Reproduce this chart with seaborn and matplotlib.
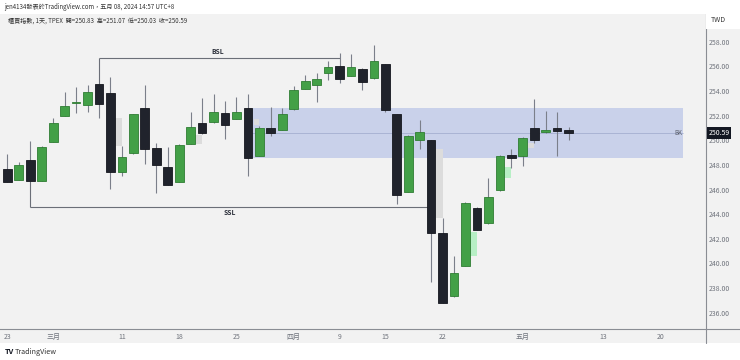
import matplotlib
matplotlib.use("Agg")
import matplotlib.pyplot as plt
import seaborn as sns
import numpy as np
from matplotlib.patches import Rectangle
from matplotlib.lines import Line2D

# ---------------- data ----------------
opens = [247.67, 246.80, 248.40, 246.72, 249.88, 252.00, 253.02, 252.84, 254.57, 253.86,
         247.45, 248.94, 252.59, 249.40, 247.85, 246.64, 249.70, 251.43, 251.46, 252.19,
         251.75, 252.59, 248.75, 250.97, 250.83, 252.51, 254.16, 254.49, 255.48, 256.05,
         255.24, 255.81, 255.03, 256.17, 252.13, 245.82, 250.00, 250.02, 242.45, 237.36,
         239.82, 244.53, 243.26, 245.94, 248.83, 248.75, 251.02, 250.65, 251.02, 250.83]
highs = [248.86, 248.21, 249.94, 249.50, 251.78, 253.94, 254.35, 254.49, 254.60, 255.11,
         249.53, 252.15, 254.49, 249.80, 249.43, 249.66, 252.27, 253.41, 253.75, 253.19,
         253.49, 253.75, 251.16, 252.72, 252.64, 254.43, 255.30, 255.43, 256.46, 257.11,
         257.00, 255.85, 257.73, 256.20, 252.15, 250.40, 251.64, 250.05, 243.67, 240.61,
         245.00, 244.55, 246.91, 248.80, 249.29, 250.25, 253.32, 252.40, 252.32, 251.07]
lows = [246.60, 246.75, 246.70, 246.70, 249.86, 251.98, 252.24, 252.32, 251.78, 246.02,
        247.10, 248.92, 248.07, 245.69, 246.35, 246.62, 249.68, 250.50, 251.44, 250.08,
        251.73, 247.10, 248.73, 250.37, 250.81, 252.49, 254.14, 253.13, 254.89, 254.67,
        255.22, 254.08, 255.01, 252.32, 244.86, 245.80, 249.27, 238.52, 236.77, 237.30,
        239.80, 242.70, 243.20, 245.92, 247.77, 247.91, 249.75, 250.60, 248.75, 250.03]
closes = [246.64, 247.97, 246.72, 249.48, 251.38, 252.78, 253.13, 253.92, 252.94, 247.45,
          248.64, 252.13, 249.27, 247.99, 246.37, 249.64, 251.05, 250.56, 252.27, 251.21,
          252.29, 248.54, 250.97, 250.61, 252.13, 254.08, 254.81, 254.97, 255.97, 254.97,
          255.97, 254.70, 256.46, 252.46, 245.56, 250.35, 250.69, 242.45, 236.77, 239.25,
          244.93, 242.72, 245.39, 248.75, 248.56, 250.21, 250.02, 250.81, 250.73, 250.59]

tick_pos = [0, 4, 10, 15, 20, 25, 29, 33, 38, 45, 52, 57]
tick_labels = ["23", "三月", "11", "18", "25", "四月", "9", "15", "22", "五月", "13", "20"]
price_ticks = [236, 238, 240, 242, 244, 246, 248, 250, 252, 254, 256, 258]

zone_start, zone_end = 21.1, 59.0
zone_low, zone_high = 248.58, 252.59
zone_mid = 250.55
last_price = 250.59

bsl_level, bsl_from, bsl_to = 256.65, 8, 29
ssl_level, ssl_from, ssl_to = 244.61, 2, 37

gap_x0 = [9.40, 16.40, 21.55, 37.40, 40.40, 43.40, 45.40]
gap_x1 = [10.00, 17.00, 22.00, 38.05, 41.00, 44.00, 45.95]
gap_lo = [249.55, 249.70, 251.24, 243.67, 240.61, 246.91, 249.35]
gap_hi = [251.78, 250.43, 251.70, 249.27, 242.58, 247.85, 249.75]
gap_kind = ["grey", "grey", "grey", "grey", "green", "green", "grey"]

# ---------------- style ----------------
sns.set_theme(style="white")
plt.rcParams["font.family"] = ["Noto Sans CJK TC", "DejaVu Sans"]

W, H = 740, 360
fig = plt.figure(figsize=(7.4, 3.6), dpi=100, facecolor="#f2f2f2")

def fy(py):
    return 1 - py / H

# white header and footer bands
fig.patches.append(Rectangle((0, fy(14)), 1, 14 / H, transform=fig.transFigure,
                             facecolor="white", edgecolor="none", zorder=0))
fig.patches.append(Rectangle((0, 0), 1, 17 / H, transform=fig.transFigure,
                             facecolor="white", edgecolor="none", zorder=0))
fig.patches.append(Rectangle((706 / W, fy(29)), 34 / W, 15 / H, transform=fig.transFigure,
                             facecolor="white", edgecolor="none", zorder=0))

ax = fig.add_axes([0, (H - 329) / H, 706 / W, (329 - 14) / H])
ax.set_facecolor("#f2f2f2")

x = np.arange(len(opens))
o = np.array(opens); c = np.array(closes); h = np.array(highs); l = np.array(lows)
up = c >= o

# zone
ax.add_patch(Rectangle((zone_start, zone_low), zone_end - zone_start, zone_high - zone_low,
                       facecolor="#c9d1ea", edgecolor="none", zorder=1))
ax.hlines(zone_mid, zone_start, zone_end, color="#aab4d4", lw=0.7, zorder=1.5)
ax.text(58.6, zone_mid, "BK", fontsize=4.4, color="#555a66", va="center", ha="center", zorder=2)

# gaps
for x0, x1, lo, hi, k in zip(gap_x0, gap_x1, gap_lo, gap_hi, gap_kind):
    col = "#dcdcdc" if k == "grey" else "#b7efc5"
    ax.add_patch(Rectangle((x0, lo), x1 - x0, hi - lo, facecolor=col, edgecolor="none", zorder=1.8))

# BSL / SSL
line_col = "#6b6f78"
ax.hlines(bsl_level, bsl_from, bsl_to, color=line_col, lw=0.8, zorder=2)
ax.vlines(bsl_from, opens[bsl_from], bsl_level, color=line_col, lw=0.8, zorder=2)
ax.hlines(ssl_level, ssl_from, ssl_to, color=line_col, lw=0.8, zorder=2)
ax.vlines(ssl_from, closes[ssl_from], ssl_level, color=line_col, lw=0.8, zorder=2)
ax.text(18.4, 257.2, "BSL", fontsize=4.8, fontweight="bold", color="#2a2e39", ha="center", va="center")
ax.text(19.4, 244.15, "SSL", fontsize=4.8, fontweight="bold", color="#2a2e39", ha="center", va="center")

# candles
ax.vlines(x, l, h, color="#7b7f8a", lw=0.8, zorder=3)
body_bottom = np.minimum(o, c)
body_h = np.maximum(np.abs(c - o), 0.08)
face = np.where(up, "#43a047", "#20232c")
edge = np.where(up, "#2f7d33", "#15171e")
ax.bar(x, body_h, bottom=body_bottom, width=0.76, color=face, edgecolor=edge,
       linewidth=0.6, zorder=4)

# axes
ax.set_xlim(-0.646, 61.0)
ax.set_ylim(234.68, 260.25)
ax.set_xticks(tick_pos)
ax.set_xticklabels(tick_labels)
ax.set_yticks(price_ticks)
ax.set_yticklabels([f"{v:.2f}" for v in price_ticks])
ax.yaxis.tick_right()
ax.tick_params(axis="both", length=0, labelsize=5.0, colors="#6f737c")
ax.tick_params(axis="x", pad=3.2)
ax.tick_params(axis="y", pad=1.6)
for s in ["top", "left"]:
    ax.spines[s].set_visible(False)
for s in ["right", "bottom"]:
    ax.spines[s].set_color("#8a8d94")
    ax.spines[s].set_linewidth(0.8)

# extend axis lines
fig.add_artist(Line2D([706 / W, 1], [fy(329), fy(329)], transform=fig.transFigure,
                      color="#8a8d94", lw=0.8))
fig.add_artist(Line2D([706 / W, 706 / W], [fy(329), fy(343)], transform=fig.transFigure,
                      color="#8a8d94", lw=0.8))

# last price label
ax.annotate(f"{last_price:.2f}", xy=(1.0, last_price), xycoords=("axes fraction", "data"),
            xytext=(2.0, 0), textcoords="offset points", fontsize=5.0, color="white",
            va="center", ha="left",
            bbox=dict(boxstyle="square,pad=0.22", facecolor="#131722", edgecolor="none"))

# header texts
fig.text(4 / W, fy(7), "jen4134發表於TradingView.com，五月 08, 2024 14:57 UTC+8",
         fontsize=4.4, color="#333333", va="center", ha="left")
fig.text(8 / W, fy(20.5), "櫃買指數, 1天, TPEX  開=250.83  高=251.07  低=250.03  收=250.59",
         fontsize=4.4, color="#333333", va="center", ha="left")
fig.text(718 / W, fy(20.5), "TWD", fontsize=5.0, color="#333333", va="center", ha="center")
fig.text(5 / W, fy(352), "TV", fontsize=5.4, fontweight="bold", color="#131722", va="center", ha="left")
fig.text(15 / W, fy(352), "TradingView", fontsize=5.2, color="#333333", va="center", ha="left")

fig.savefig("out.png", dpi=100, facecolor=fig.get_facecolor())
